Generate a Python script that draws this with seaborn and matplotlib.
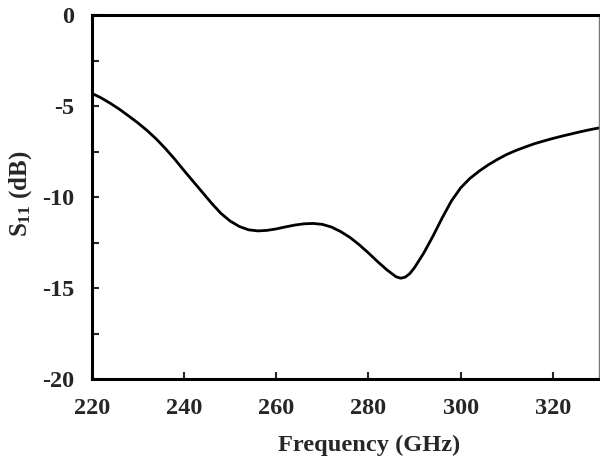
import matplotlib
matplotlib.use('Agg')
import matplotlib.pyplot as plt
import numpy as np
import pandas as pd
import seaborn as sns

# values
freq = [220, 222, 224, 226, 228, 230, 232, 234, 236, 238, 240, 242, 244, 246,
        248, 250, 252, 254, 256, 258, 260, 262, 264, 266, 268, 270, 272, 274,
        276, 278, 280, 282, 284, 286, 287, 288, 289, 290, 292, 294, 296, 298,
        300, 302, 304, 306, 308, 310, 312, 314, 316, 318, 320, 322, 324, 326,
        328, 330]
s11 = [-4.30, -4.55, -4.85, -5.18, -5.55, -5.93, -6.35, -6.82, -7.35, -7.93,
       -8.55, -9.15, -9.75, -10.35, -10.90, -11.32, -11.62, -11.80, -11.86,
       -11.83, -11.75, -11.64, -11.54, -11.47, -11.45, -11.50, -11.65, -11.90,
       -12.22, -12.62, -13.07, -13.55, -14.00, -14.38, -14.46, -14.40, -14.20,
       -13.88, -13.08, -12.15, -11.15, -10.22, -9.50, -8.98, -8.58, -8.23,
       -7.93, -7.66, -7.44, -7.25, -7.07, -6.92, -6.78, -6.65, -6.53, -6.41,
       -6.30, -6.20]

xticks = [220, 240, 260, 280, 300, 320]
yticks = [0, -5, -10, -15, -20]

sns.set_style('ticks')
plt.rcParams['font.family'] = ['Liberation Serif', 'DejaVu Serif']
plt.rcParams['font.weight'] = 'bold'
plt.rcParams['axes.unicode_minus'] = False
plt.rcParams['mathtext.fontset'] = 'custom'
plt.rcParams['mathtext.rm'] = 'Liberation Serif:bold'
plt.rcParams['mathtext.it'] = 'Liberation Serif:bold'
plt.rcParams['mathtext.bf'] = 'Liberation Serif:bold'

df = pd.DataFrame({'freq': freq, 's11': s11})

fig = plt.figure(figsize=(6, 4.59), dpi=100)
ax = fig.add_axes([0.1533, 0.1743, 0.8447, 0.7927])
sns.lineplot(data=df, x='freq', y='s11', color='black', linewidth=2.0, ax=ax,
             solid_joinstyle='round', solid_capstyle='round')

ax.set_xlim(220, 330)
ax.set_ylim(-20, 0)
ax.set_xticks(xticks)
ax.set_yticks(yticks)
ax.set_yticks([-2.5, -7.5, -12.5, -17.5], minor=True)
ax.tick_params(axis='both', which='both', direction='in', length=5, width=1.5,
               labelsize=17.5, pad=13)
ax.tick_params(axis='x', which='major', pad=14)

for side in ['left', 'bottom', 'top']:
    ax.spines[side].set_linewidth(2.2)
    ax.spines[side].set_color('black')
ax.spines['right'].set_linewidth(1.0)
ax.spines['right'].set_color('#777777')

ax.set_xlabel('Frequency (GHz)', fontsize=17.6, fontweight='bold', labelpad=11,
              x=0.546)
ax.set_ylabel('$S_{11}$ (dB)', fontsize=18, fontweight='bold')
ax.yaxis.set_label_coords(-0.114, 0.51)

fig.savefig('out.png', dpi=100)
